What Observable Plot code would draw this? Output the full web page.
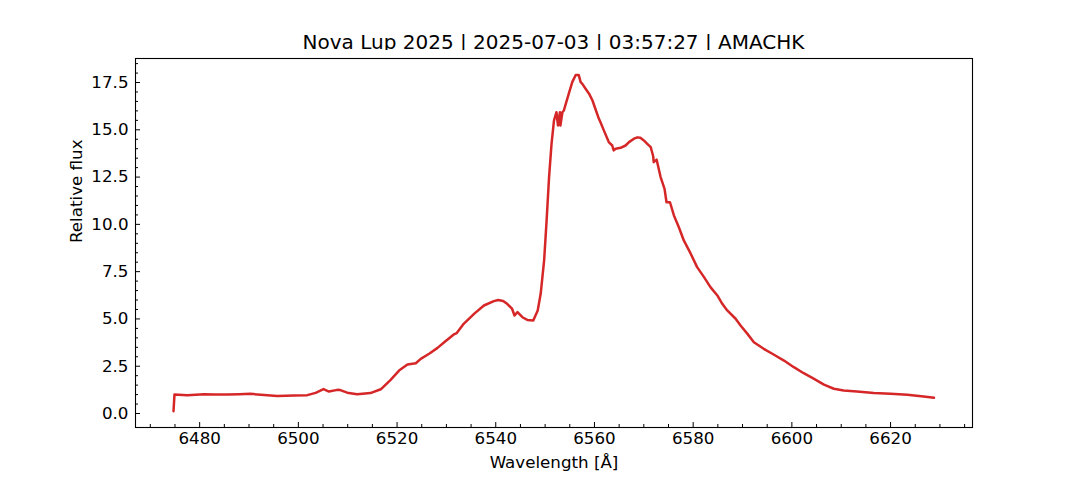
<!DOCTYPE html>
<html>
<head>
<meta charset="utf-8">
<script src="https://cdn.jsdelivr.net/npm/d3@7"></script>
<script src="https://cdn.jsdelivr.net/npm/@observablehq/plot@0.6"></script>
<style>
  html, body { margin: 0; padding: 0; background: #fff; }
  #wrap { width: 1080px; height: 480px; position: relative; font-family: "DejaVu Sans", sans-serif; }
  #title { position: absolute; left: 0; top: 0; width: 1080px; height: 50px; box-sizing: border-box;
           padding-left: 27px; padding-top: 30px; line-height: 24px; text-align: center;
           font-size: 20px; color: #000; white-space: nowrap; }
  #chart { position: absolute; left: 0; top: 50px; }
</style>
</head>
<body>
<div id="wrap">
  <div id="title">Nova Lup 2025 | 2025-07-03 | 03:57:27 | AMACHK</div>
  <div id="chart"></div>
</div>
<script>
const wavelength = [
  6474.7, 6474.9, 6477.5, 6480.9, 6483.0, 6485.6, 6488.0, 6490.3, 6492.4, 6495.7,
  6497.5, 6499.1, 6501.8, 6503.5, 6505.1, 6506.2, 6507.9, 6508.5, 6509.9, 6511.9,
  6514.6, 6516.7, 6518.7, 6520.4, 6522.1, 6523.8, 6524.8, 6526.5, 6528.2, 6529.8,
  6531.5, 6532.1, 6533.5, 6535.6, 6537.6, 6539.6, 6540.5, 6541.5, 6542.3, 6543.3,
  6543.8, 6544.4, 6545.4, 6546.4, 6547.6, 6548.5, 6549.1, 6549.8, 6550.3, 6550.8,
  6551.3, 6551.8, 6552.3, 6552.6, 6553.0, 6553.1, 6553.5, 6553.8, 6554.2, 6554.8,
  6555.5, 6556.2, 6556.8, 6557.2, 6557.5, 6558.2, 6558.9, 6559.6, 6560.3, 6560.9,
  6561.2, 6561.9, 6562.9, 6563.6, 6563.9, 6564.3, 6565.3, 6566.3, 6567.0, 6568.0,
  6568.7, 6569.3, 6570.0, 6570.7, 6571.4, 6571.9, 6572.0, 6572.6, 6573.4, 6574.2,
  6574.6, 6575.3, 6576.1, 6577.1, 6578.1, 6579.5, 6580.8, 6582.2, 6583.5, 6584.9,
  6585.9, 6586.9, 6588.6, 6589.6, 6591.0, 6592.3, 6594.3, 6596.3, 6598.4, 6600.4,
  6602.4, 6604.5, 6606.5, 6608.5, 6610.5, 6613.2, 6616.6, 6620.0, 6623.4, 6626.7,
  6628.8
];
const flux = [
  0.12, 1.00, 0.97, 1.02, 1.00, 1.00, 1.02, 1.04, 0.99, 0.92,
  0.94, 0.95, 0.97, 1.09, 1.29, 1.16, 1.25, 1.24, 1.10, 1.02,
  1.08, 1.28, 1.78, 2.27, 2.59, 2.66, 2.89, 3.16, 3.47, 3.82,
  4.18, 4.25, 4.74, 5.27, 5.71, 5.94, 6.00, 5.95, 5.80, 5.54,
  5.18, 5.36, 5.09, 4.95, 4.92, 5.45, 6.33, 8.09, 10.2, 12.5,
  14.26, 15.5, 15.93, 15.23, 15.93, 15.23, 15.93, 16.02, 16.38, 16.91,
  17.52, 17.9, 17.9, 17.52, 17.44, 17.17, 16.91, 16.55, 16.02, 15.58,
  15.41, 14.97, 14.35, 14.17, 13.91, 14.00, 14.05, 14.17, 14.35, 14.53,
  14.6, 14.58, 14.44, 14.26, 14.08, 13.6, 13.29, 13.42, 12.5, 11.88,
  11.17, 11.17, 10.47, 9.85, 9.15, 8.45, 7.74, 7.21, 6.68, 6.24,
  5.80, 5.45, 5.01, 4.65, 4.21, 3.77, 3.42, 3.12, 2.80, 2.45,
  2.13, 1.83, 1.53, 1.31, 1.22, 1.16, 1.09, 1.04, 0.99, 0.90,
  0.83
];
const xMajorTicks = [6480, 6500, 6520, 6540, 6560, 6580, 6600, 6620];
const yMajorTicks = [0, 2.5, 5, 7.5, 10, 12.5, 15, 17.5];
const titleText = "Nova Lup 2025 | 2025-07-03 | 03:57:27 | AMACHK";
const xLabel = "Wavelength [Å]";
const yLabel = "Relative flux";

const xMinorTicks = d3.range(6470, 6640, 5).filter(v => v % 20 !== 0);
const yMinorTicks = d3.range(0, 18.6, 0.5).filter(v => Math.abs(v / 2.5 - Math.round(v / 2.5)) > 1e-6);

document.getElementById("title").textContent = titleText;
const data = wavelength.map((w, i) => ({w, f: flux[i]}));
const font = "DejaVu Sans, sans-serif";
const fs = 16.7;

const chart = Plot.plot({
  width: 1080,
  height: 430,
  marginTop: 8,
  marginBottom: 53,
  marginLeft: 135,
  marginRight: 108,
  style: {fontFamily: font, fontSize: fs + "px", background: "#fff", color: "#000", overflow: "visible"},
  x: {domain: [6467.0, 6636.6]},
  y: {domain: [-0.74, 18.77]},
  marks: [
    Plot.line(data, {x: "w", y: "f", stroke: "#d62728", strokeWidth: 2.5}),
    Plot.frame({stroke: "#000", strokeWidth: 1.1}),
    Plot.axisX({ticks: xMajorTicks, tickSize: -5, tickPadding: 10, tickFormat: d3.format("d"), label: null, fontSize: fs}),
    Plot.axisX({ticks: xMinorTicks, tickSize: -3, tickFormat: () => "", label: null}),
    Plot.axisY({ticks: yMajorTicks, tickSize: -5, tickPadding: 12, tickFormat: d3.format(".1f"), label: null, fontSize: fs}),
    Plot.axisY({ticks: yMinorTicks, tickSize: -3, tickFormat: () => "", label: null}),
    Plot.text([xLabel], {frameAnchor: "bottom", dy: 40, text: d => d, fontSize: fs, fill: "#000"}),
    Plot.text([yLabel], {frameAnchor: "left", dx: -59, rotate: -90, text: d => d, fontSize: fs, fill: "#000"})
  ]
});
document.getElementById("chart").appendChild(chart);
</script>
</body>
</html>
